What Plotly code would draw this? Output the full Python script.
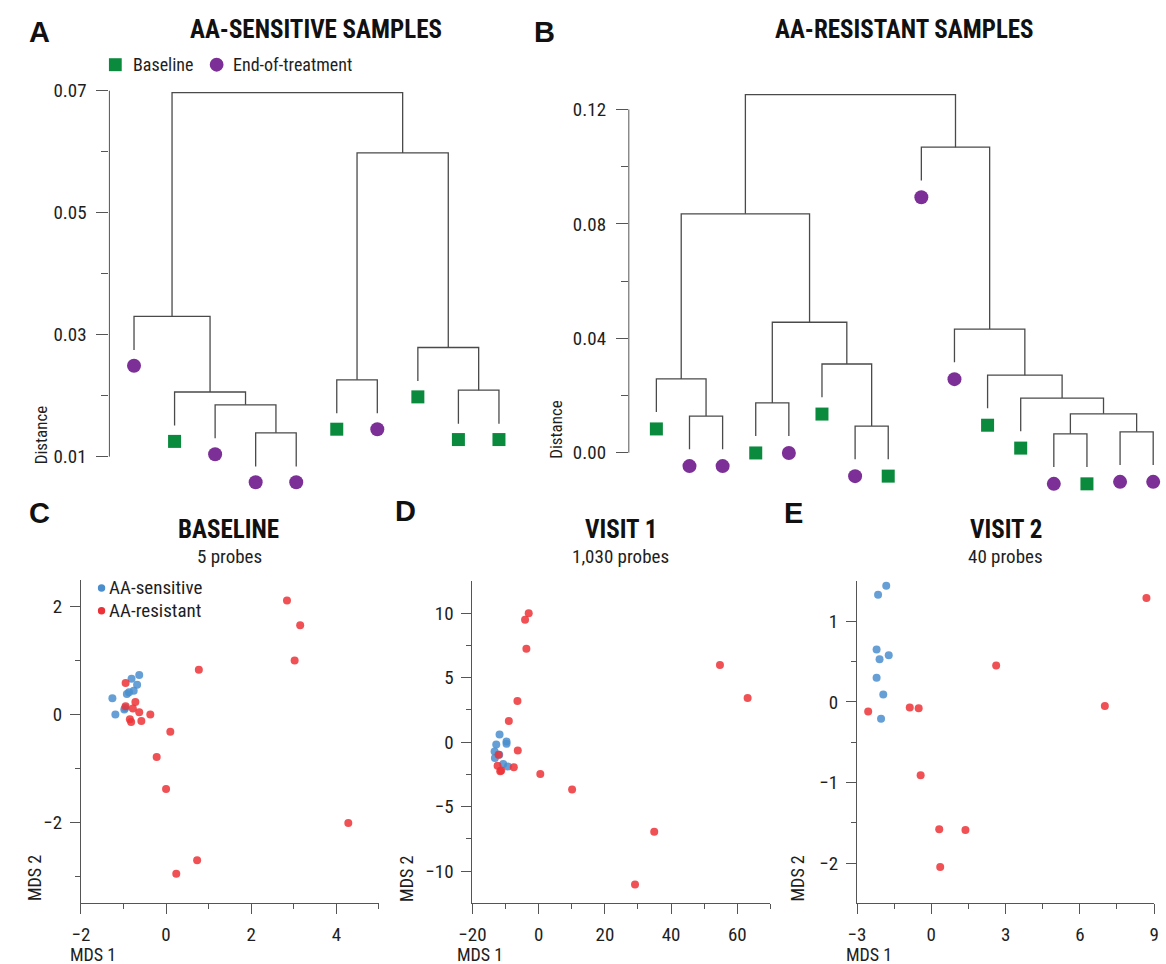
import plotly.graph_objects as go

W, H = 1166, 964

# ---------------- data ----------------
# Panel A dendrogram (AA-sensitive samples); leaves in plotted order
a_leaf_groups = ["End", "Base", "End", "End", "End", "Base", "End", "Base", "Base", "Base"]
# merges: (left, right, height); negative = leaf index, positive = earlier merge index
a_merges = [(-4, -5, 0.0139), (-3, 1, 0.0185), (-2, 2, 0.0206), (-1, 3, 0.0330),
            (-6, -7, 0.0226), (-9, -10, 0.0209), (-8, 6, 0.0279), (5, 7, 0.0598),
            (4, 8, 0.0697)]
a_ticks = [0.01, 0.03, 0.05, 0.07]
a_minor = [0.02, 0.04, 0.06]

# Panel B dendrogram (AA-resistant samples)
b_leaf_groups = ["Base", "End", "End", "Base", "End", "Base", "End", "Base",
                 "End", "End", "Base", "Base", "End", "Base", "End", "End"]
b_merges = [(-2, -3, 0.0128), (-1, 1, 0.0258), (-4, -5, 0.0174), (-7, -8, 0.0093),
            (-6, 4, 0.0310), (3, 5, 0.0456), (2, 6, 0.0835), (-13, -14, 0.0066),
            (-15, -16, 0.0073), (8, 9, 0.0136), (-12, 10, 0.0191), (-11, 11, 0.0271),
            (-10, 12, 0.0432), (-9, 13, 0.1068), (7, 14, 0.1252)]
b_ticks = [0.00, 0.04, 0.08, 0.12]
b_minor = [0.02, 0.06, 0.10]

# Panel C (baseline, 5 probes)
c_sens_x = [-0.63, -0.81, -0.68, -0.76, -0.87, -0.92, -1.26, -1.19, -0.98, -0.96]
c_sens_y = [0.73, 0.66, 0.55, 0.44, 0.41, 0.38, 0.30, 0.00, 0.09, 0.12]
c_res_x = [2.84, 3.15, 3.02, 0.77, -0.95, 0.10, -0.22, 0.00, 4.28, 0.73, 0.24,
           -0.95, -0.72, -0.78, -0.63, -0.85, -0.82, -0.58, -0.37]
c_res_y = [2.11, 1.65, 1.00, 0.83, 0.58, -0.32, -0.79, -1.38, -2.01, -2.70, -2.95,
           0.15, 0.23, 0.11, 0.04, -0.09, -0.14, -0.12, 0.00]

# Panel D (visit 1, 1,030 probes)
d_sens_x = [-11.8, -12.8, -9.7, -9.7, -13.3, -13.2, -11.9, -10.7, -9.3]
d_sens_y = [0.59, -0.18, 0.05, -0.13, -0.72, -1.23, -0.98, -1.70, -1.88]
d_res_x = [-3.0, -4.1, -3.7, 54.75, 63.1, -6.4, -9.0, -6.3, -7.5, 0.5, 10.1, 34.9,
           29.1, -12.4, -11.6, -11.3, -12.1]
d_res_y = [10.0, 9.49, 7.25, 5.99, 3.42, 3.19, 1.65, -0.64, -1.95, -2.47, -3.68,
           -6.94, -11.05, -1.83, -2.26, -2.2, -0.98]

# Panel E (visit 2, 40 probes)
e_sens_x = [-1.82, -2.15, -2.21, -1.72, -2.09, -2.21, -1.94, -2.03]
e_sens_y = [1.44, 1.33, 0.65, 0.58, 0.53, 0.30, 0.09, -0.21]
e_res_x = [8.69, 2.62, 7.01, -2.55, -0.87, -0.51, -0.43, 0.32, 1.38, 0.36]
e_res_y = [1.29, 0.45, -0.05, -0.12, -0.07, -0.08, -0.91, -1.58, -1.59, -2.05]

# ---------------- style ----------------
NARROW = "Liberation Sans Narrow, Arial Narrow, Roboto Condensed, DejaVu Sans Condensed, sans-serif"
BOLDF = "Liberation Sans, Arial, Helvetica, sans-serif"
GREEN = "#0A8A3C"
PURPLE = "#7C2F96"
BLUE = "#4A8ECE"
RED = "#EC3237"
LINE = "#4A4A4A"
AXC = "#555555"
TXT = "#1E1E1E"


def dxp(a, b):
    return [a / W, b / W]


def dyp(top, bottom):
    return [1 - bottom / H, 1 - top / H]


def dendro(merges, n, hang, gap):
    node_x, node_h = {}, {}
    xs, ys = [], []
    leaf_y = [None] * n
    for k, (l, r, h) in enumerate(merges, 1):
        pts = []
        for c in (l, r):
            if c < 0:
                x = abs(c)
                yb = h - hang
                leaf_y[abs(c) - 1] = yb - gap
            else:
                x = node_x[c]
                yb = node_h[c]
            pts.append((x, yb))
        (xl, yl), (xr, yr) = pts
        xs += [xl, xl, xr, xr, None]
        ys += [yl, h, h, yr, None]
        node_x[k] = (xl + xr) / 2
        node_h[k] = h
    return xs, ys, leaf_y


fig = go.Figure()

# dendrograms
for groups, merges, hang, gap, xa, ya in [
    (a_leaf_groups, a_merges, 0.0055, 0.0026, "x", "y"),
    (b_leaf_groups, b_merges, 0.0116, 0.0059, "x2", "y2"),
]:
    n = len(groups)
    xs, ys, leaf_y = dendro(merges, n, hang, gap)
    fig.add_trace(go.Scatter(x=xs, y=ys, mode="lines", line=dict(color=LINE, width=1.3),
                             xaxis=xa, yaxis=ya, showlegend=False, hoverinfo="skip"))
    for g, sym, col, size in [("Base", "square", GREEN, 13), ("End", "circle", PURPLE, 14)]:
        idx = [i for i in range(n) if groups[i] == g]
        fig.add_trace(go.Scatter(x=[i + 1 for i in idx], y=[leaf_y[i] for i in idx],
                                 mode="markers", cliponaxis=False,
                                 marker=dict(symbol=sym, color=col, size=size, line=dict(width=0)),
                                 xaxis=xa, yaxis=ya, showlegend=False))

# MDS scatter panels
for sx, sy, rx, ry, xa, ya in [
    (c_sens_x, c_sens_y, c_res_x, c_res_y, "x3", "y3"),
    (d_sens_x, d_sens_y, d_res_x, d_res_y, "x4", "y4"),
    (e_sens_x, e_sens_y, e_res_x, e_res_y, "x5", "y5"),
]:
    fig.add_trace(go.Scatter(x=sx, y=sy, mode="markers", cliponaxis=False,
                             marker=dict(color=BLUE, size=8, opacity=0.85, line=dict(width=0)),
                             xaxis=xa, yaxis=ya, showlegend=False))
    fig.add_trace(go.Scatter(x=rx, y=ry, mode="markers", cliponaxis=False,
                             marker=dict(color=RED, size=8, opacity=0.85, line=dict(width=0)),
                             xaxis=xa, yaxis=ya, showlegend=False))

tickfont = dict(family=NARROW, size=19, color=TXT)


def hidden_x(domain, rng, anchor):
    return dict(domain=domain, range=rng, visible=False, anchor=anchor, fixedrange=True)


def dendro_y(domain, rng, anchor, ticks, minor, fmt):
    return dict(domain=domain, range=rng, anchor=anchor, showline=False, showgrid=False,
                zeroline=False, tickmode="array", tickvals=ticks,
                ticktext=[fmt.format(t) for t in ticks],
                ticks="outside", ticklen=12, tickwidth=1, tickcolor=AXC,
                ticklabelstandoff=6, tickfont=tickfont,
                minor=dict(tickmode="array", tickvals=minor, ticks="outside",
                           ticklen=7, tickwidth=1, tickcolor=AXC, showgrid=False))


def mds_axis(domain, rng, anchor, ticks, minor):
    return dict(domain=domain, range=rng, anchor=anchor, showline=True, linecolor=AXC,
                linewidth=1, showgrid=False, zeroline=False, tickmode="array",
                tickvals=ticks, ticks="outside", ticklen=10, tickwidth=1, tickcolor=AXC,
                ticklabelstandoff=4, tickfont=tickfont,
                minor=dict(tickmode="array", tickvals=minor, ticks="outside",
                           ticklen=5, tickwidth=1, tickcolor=AXC, showgrid=False))


fig.update_layout(
    width=W, height=H, autosize=False,
    margin=dict(l=0, r=0, t=0, b=0),
    paper_bgcolor="white", plot_bgcolor="white",
    showlegend=False,
    xaxis=hidden_x(dxp(97, 515), [1 - 25 / 41.2, 10 + 22 / 41.2], "y"),
    yaxis=dendro_y(dyp(80, 495), [0.00331, 0.07101], "x", a_ticks, a_minor, "{:.2f}"),
    xaxis2=hidden_x(dxp(625, 1166), [0.168, 0.168 + 541 / 33.67], "y2"),
    yaxis2=dendro_y(dyp(80, 495), [-0.01565, 0.12870], "x2", b_ticks, b_minor, "{:.2f}"),
    xaxis3=mds_axis(dxp(68, 371), [-2, 5], "y3", [-2, 0, 2, 4], [-1, 1, 3, 5]),
    yaxis3=mds_axis(dyp(577.5, 903), [-3.5, 2.5], "x3", [-2, 0, 2], [-3, -1, 1]),
    xaxis4=mds_axis(dxp(466, 769), [-20, 70], "y4", [-20, 0, 20, 40, 60], [-10, 10, 30, 50, 70]),
    yaxis4=mds_axis(dyp(579, 903), [-12.5, 12.5], "x4", [-10, -5, 0, 5, 10], [-7.5, -2.5, 2.5, 7.5]),
    xaxis5=mds_axis(dxp(857, 1159), [-3, 9], "y5", [-3, 0, 3, 6, 9], [-1.5, 1.5, 4.5, 7.5]),
    yaxis5=mds_axis(dyp(579, 903), [-2.5, 1.5], "x5", [-2, -1, 0, 1], [-1.5, -0.5, 0.5]),
)

shapes = []
# dendrogram y-axis lines spanning only the labelled range
shapes.append(dict(type="line", xref="x domain", yref="y", x0=0, x1=0, y0=a_ticks[0], y1=a_ticks[-1],
                   line=dict(color=AXC, width=1)))
shapes.append(dict(type="line", xref="x2 domain", yref="y2", x0=0, x1=0, y0=b_ticks[0], y1=b_ticks[-1],
                   line=dict(color=AXC, width=1)))


def px_shape(kind, cx, cy, d, color):
    return dict(type=kind, xref="paper", yref="paper",
                x0=(cx - d / 2) / W, x1=(cx + d / 2) / W,
                y0=1 - (cy + d / 2) / H, y1=1 - (cy - d / 2) / H,
                fillcolor=color, line=dict(width=0))


# legend symbols
shapes.append(px_shape("rect", 103, 60, 13, GREEN))
shapes.append(px_shape("circle", 206, 60, 14, PURPLE))
shapes.append(px_shape("circle", 89, 586, 7.5, BLUE))
shapes.append(px_shape("circle", 89, 609, 7.5, RED))
fig.update_layout(shapes=shapes)

ann = []


def text(t, x, y, size, family=NARROW, xanchor="center", yanchor="middle", angle=0, color=TXT):
    ann.append(dict(text=t, x=x / W, y=1 - y / H, xref="paper", yref="paper",
                    xanchor=xanchor, yanchor=yanchor, showarrow=False, textangle=angle,
                    font=dict(family=family, size=size, color=color)))


# panel letters
for letter, x, y in [("A", 26, 27), ("B", 539, 27), ("C", 26, 511), ("D", 398, 509), ("E", 792, 511)]:
    text("<b>" + letter + "</b>", x, y, 29, family=BOLDF, color="#111111")

# titles
text("<b>AA-SENSITIVE SAMPLES</b>", 307, 25, 25, color="#111111")
text("<b>AA-RESISTANT SAMPLES</b>", 905, 25, 25, color="#111111")
text("<b>BASELINE</b>", 218, 527, 25, color="#111111")
text("5 probes", 219, 554, 19)
text("<b>VISIT 1</b>", 617, 527, 25, color="#111111")
text("1,030 probes", 617, 554, 19)
text("<b>VISIT 2</b>", 1008, 527, 25, color="#111111")
text("40 probes", 1008, 554, 19)

# legends text
text("Baseline", 119, 60, 18, xanchor="left")
text("End-of-treatment", 221, 60, 18, xanchor="left")
text("AA-sensitive", 95, 586, 19, xanchor="left")
text("AA-resistant", 95, 609, 19, xanchor="left")

# axis titles
text("Distance", 27, 432, 17, angle=-90)
text("Distance", 551, 427, 17, angle=-90)
for x2, x1 in [(21, 80), (399, 474), (796, 869)]:
    text("MDS 2", x2, 878, 18, angle=-90)
    text("MDS 1", x1, 954, 18)

fig.update_layout(annotations=ann)

fig.write_html("out.html", config={"displayModeBar": False},
               post_script="document.body.style.margin='0';document.body.style.overflow='hidden';")
